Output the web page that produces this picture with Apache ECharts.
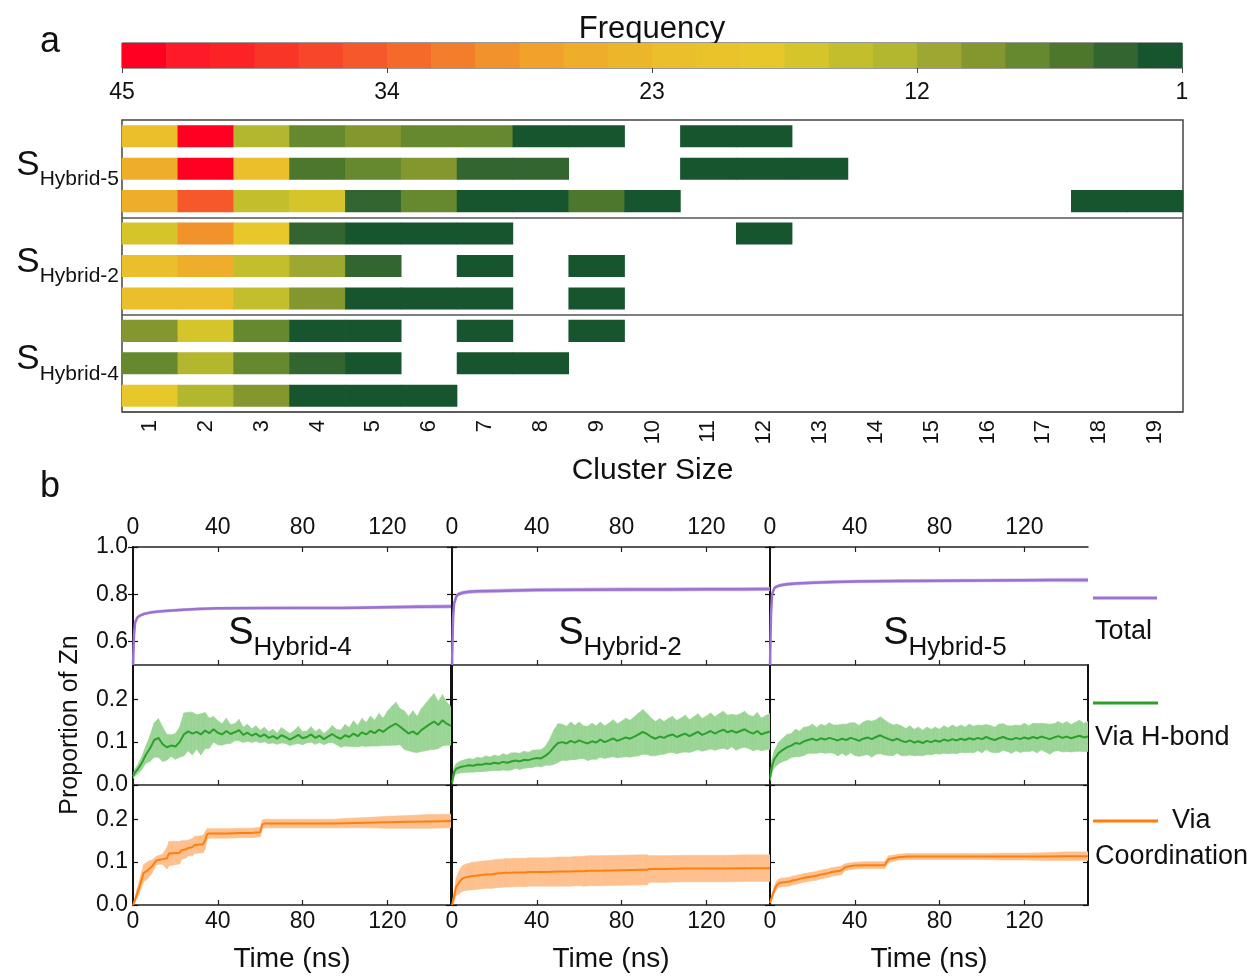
<!DOCTYPE html>
<html><head><meta charset="utf-8">
<script src="https://cdn.jsdelivr.net/npm/echarts@6/dist/echarts.min.js"></script>
<style>html,body{margin:0;padding:0;background:#fff}#c{width:1254px;height:976px}</style>
</head><body><div id="c"></div>
<script>
const FONT = '"Liberation Sans", Arial, Helvetica, sans-serif';
const TXT = '#111';

// ---------- Panel a data ----------
const FREQ_COLORS = ['#FF0022','#FF1A27','#FC2326','#F93527','#F74629','#F6582A','#F56A29','#F37D2A','#F2922A','#F0A22A','#EEAE2A','#ECB62A',
                     '#EBBE2B','#EAC22A','#E8C72A','#D5C52B','#C3BF2C','#B2B72E','#9DA833','#84962E','#66882E','#4C772D','#326530','#17552E'];
const FREQ_MAX = 45, FREQ_MIN = 1;
const FREQ_TICKS = [45, 34, 23, 12, 1];
const CLUSTER_SIZES = ['1','2','3','4','5','6','7','8','9','10','11','12','13','14','15','16','17','18','19'];
const GROUPS = ['Hybrid-5', 'Hybrid-2', 'Hybrid-4'];
const ROW_NAMES = ['S5-1','S5-2','S5-3','S2-1','S2-2','S2-3','S4-1','S4-2','S4-3'];
const _ = null;
const FREQ_S5 = [
  [22,44,13,7,9,7,7,2,2,_,2,2,_,_,_,_,_,_,_],
  [26,44,22,6,7,9,4,4,_,_,2,2,2,_,_,_,_,_,_],
  [26,35,15,17,4,7,2,2,6,2,_,_,_,_,_,_,_,2,2]
];
const FREQ_S2 = [
  [17,29,18,4,2,2,2,_,_,_,_,2,_,_,_,_,_,_,_],
  [22,26,15,11,4,_,2,_,2,_,_,_,_,_,_,_,_,_,_],
  [22,22,15,9,2,2,2,_,2,_,_,_,_,_,_,_,_,_,_]
];
const FREQ_S4 = [
  [9,17,7,2,2,_,2,_,2,_,_,_,_,_,_,_,_,_,_],
  [7,13,7,4,2,_,2,2,_,_,_,_,_,_,_,_,_,_,_],
  [19,13,9,2,2,2,_,_,_,_,_,_,_,_,_,_,_,_,_]
];

// ---------- Panel b data ----------
const PANEL_NAMES = ['Hybrid-4', 'Hybrid-2', 'Hybrid-5'];
const TIME_TICKS = [0, 40, 80, 120];
const TOT_TICKS = [0.6, 0.8, 1.0];
const SUB_TICKS = [0.0, 0.1, 0.2];

const T_TOT = [0,0.5,1,2,3,5,8,12,20,30,40,60,80,100,120,135,150];
const TOT_S4 = [0.50,0.63,0.68,0.70,0.708,0.716,0.722,0.727,0.732,0.737,0.740,0.741,0.742,0.742,0.745,0.747,0.748];
const TOT_S2 = [0.50,0.70,0.76,0.79,0.80,0.806,0.810,0.812,0.814,0.816,0.818,0.819,0.820,0.820,0.821,0.821,0.822];
const TOT_S5 = [0.50,0.72,0.80,0.825,0.832,0.838,0.842,0.845,0.849,0.852,0.854,0.856,0.857,0.858,0.859,0.860,0.860];
const TOT_SD_S4 = [0,0.006,0.006,0.006,0.005,0.005,0.005,0.005,0.005,0.005,0.005,0.005,0.005,0.005,0.006,0.007,0.007];
const TOT_SD_S2 = [0,0.008,0.008,0.007,0.007,0.007,0.007,0.007,0.007,0.007,0.007,0.007,0.007,0.007,0.007,0.007,0.007];
const TOT_SD_S5 = [0,0.008,0.007,0.006,0.006,0.006,0.006,0.006,0.006,0.006,0.006,0.006,0.006,0.006,0.006,0.007,0.008];

const T_HB = [0,1,2,4,6,8,10,12,14,16,18,20,22,24,26,28,30,32,34,36,38,40,42,44,46,48,50,52,54,56,58,60,62,64,66,68,70,72,74,76,78,80,
  82,84,86,88,90,92,94,96,98,100,102,104,106,108,110,112,114,116,118,120,122,124,126,128,130,132,134,136,138,140,142,144,146,148,150];
const HB_S4 = [0.02,0.03,0.035,0.05,0.07,0.085,0.105,0.11,0.095,0.088,
  0.092,0.09,0.10,0.118,0.125,0.12,0.124,0.118,0.127,0.121,
  0.13,0.122,0.118,0.126,0.119,0.123,0.128,0.117,0.122,0.115,
  0.12,0.113,0.118,0.11,0.114,0.108,0.116,0.112,0.106,0.111,
  0.117,0.109,0.112,0.118,0.11,0.115,0.107,0.113,0.119,0.112,
  0.108,0.116,0.112,0.12,0.114,0.123,0.118,0.126,0.121,0.129,
  0.124,0.132,0.138,0.143,0.136,0.128,0.12,0.125,0.118,0.128,
  0.135,0.142,0.148,0.14,0.151,0.143,0.138];
const HB_SD_S4 = [0.005,0.008,0.01,0.015,0.02,0.03,0.04,0.045,0.04,0.03,
  0.025,0.03,0.035,0.05,0.045,0.05,0.04,0.048,0.042,0.035,
  0.03,0.028,0.025,0.03,0.022,0.02,0.025,0.018,0.02,0.016,
  0.018,0.015,0.017,0.014,0.016,0.013,0.018,0.015,0.014,0.016,
  0.02,0.015,0.014,0.018,0.015,0.016,0.013,0.015,0.02,0.018,
  0.02,0.025,0.022,0.03,0.025,0.032,0.028,0.035,0.03,0.038,
  0.032,0.04,0.045,0.05,0.042,0.045,0.04,0.048,0.042,0.05,
  0.055,0.06,0.065,0.055,0.06,0.05,0.045];
const HB_S2 = [0.005,0.03,0.038,0.042,0.044,0.046,0.045,0.048,0.047,0.05,
  0.049,0.052,0.05,0.054,0.052,0.055,0.057,0.055,0.059,0.058,
  0.061,0.063,0.062,0.068,0.076,0.088,0.098,0.1,0.097,0.103,
  0.099,0.104,0.1,0.097,0.102,0.099,0.106,0.1,0.104,0.109,
  0.103,0.107,0.111,0.108,0.113,0.118,0.124,0.119,0.112,0.108,
  0.113,0.11,0.115,0.118,0.112,0.116,0.12,0.114,0.119,0.124,
  0.117,0.121,0.126,0.12,0.125,0.129,0.123,0.127,0.122,0.126,
  0.13,0.124,0.12,0.126,0.118,0.122,0.125];
const HB_SD_S2 = [0.003,0.01,0.012,0.014,0.015,0.016,0.015,0.017,0.016,0.018,
  0.016,0.018,0.017,0.019,0.018,0.02,0.018,0.019,0.02,0.018,
  0.02,0.019,0.02,0.022,0.03,0.04,0.045,0.042,0.04,0.044,
  0.04,0.043,0.038,0.04,0.042,0.039,0.041,0.038,0.04,0.043,
  0.04,0.042,0.045,0.043,0.046,0.05,0.052,0.048,0.044,0.04,
  0.042,0.038,0.04,0.042,0.039,0.04,0.043,0.038,0.04,0.042,
  0.038,0.04,0.042,0.039,0.041,0.043,0.04,0.038,0.041,0.04,
  0.042,0.039,0.04,0.043,0.038,0.04,0.042];
const HB_S5 = [0.015,0.045,0.06,0.074,0.082,0.088,0.092,0.098,0.096,0.102,
  0.105,0.108,0.104,0.109,0.106,0.11,0.107,0.104,0.108,0.105,
  0.11,0.107,0.103,0.108,0.111,0.107,0.112,0.116,0.111,0.107,
  0.104,0.108,0.103,0.1,0.104,0.099,0.102,0.098,0.103,0.1,
  0.104,0.101,0.106,0.103,0.107,0.104,0.108,0.105,0.109,0.106,
  0.11,0.107,0.112,0.108,0.105,0.109,0.112,0.108,0.106,0.11,
  0.107,0.111,0.108,0.112,0.109,0.113,0.11,0.107,0.111,0.114,
  0.11,0.113,0.109,0.112,0.115,0.111,0.113];
const HB_SD_S5 = [0.005,0.015,0.02,0.025,0.027,0.03,0.028,0.032,0.03,0.033,
  0.031,0.034,0.03,0.033,0.032,0.035,0.033,0.036,0.034,0.037,
  0.035,0.038,0.036,0.039,0.04,0.042,0.04,0.043,0.041,0.038,
  0.036,0.034,0.035,0.032,0.034,0.031,0.033,0.03,0.032,0.03,
  0.031,0.029,0.032,0.03,0.033,0.031,0.032,0.03,0.033,0.031,
  0.03,0.032,0.029,0.031,0.03,0.033,0.031,0.03,0.032,0.03,
  0.031,0.033,0.03,0.032,0.034,0.031,0.033,0.035,0.032,0.034,
  0.033,0.035,0.032,0.034,0.036,0.033,0.035];

const T_CO = [0,1,2,3,4,5,6,7,8,9,10,11,12,14,16,17,19,22,23,25,26,28,29,33,34,35,36,40,45,50,54,55,56,58,60,61,62,65,70,80,90,92,93,95,100,110,120,130,140,150];
const CO_S4 = [0,0.012,0.028,0.042,0.058,0.074,0.078,0.081,0.086,0.09,0.097,0.104,0.105,
  0.107,0.109,0.12,0.121,0.122,0.128,0.13,0.133,0.135,0.14,
  0.142,0.15,0.166,0.167,0.167,0.167,0.168,0.168,0.168,0.168,
  0.169,0.17,0.188,0.19,0.19,0.19,0.19,0.19,0.19,0.19,
  0.19,0.191,0.192,0.193,0.194,0.195,0.196];
const CO_SD_S4 = [0,0.005,0.01,0.015,0.018,0.02,0.02,0.02,0.018,0.015,0.012,0.01,0.01,
  0.012,0.025,0.028,0.028,0.026,0.022,0.02,0.018,0.02,0.02,
  0.02,0.02,0.012,0.011,0.011,0.011,0.011,0.011,0.011,0.011,
  0.011,0.011,0.01,0.01,0.01,0.01,0.01,0.01,0.01,0.01,
  0.01,0.011,0.012,0.014,0.015,0.016,0.016];
const CO_S2 = [0,0.02,0.043,0.05,0.057,0.062,0.064,0.065,0.066,0.067,0.068,0.068,0.069,
  0.07,0.071,0.071,0.072,0.074,0.074,0.075,0.075,0.075,0.076,
  0.076,0.076,0.076,0.077,0.077,0.077,0.078,0.078,0.078,0.078,
  0.079,0.079,0.079,0.079,0.08,0.08,0.081,0.082,0.082,0.084,
  0.084,0.084,0.085,0.085,0.085,0.086,0.086];
const CO_SD_S2 = [0,0.01,0.02,0.025,0.028,0.03,0.03,0.031,0.031,0.032,0.032,0.032,0.032,
  0.032,0.032,0.032,0.033,0.033,0.033,0.033,0.033,0.033,0.033,
  0.033,0.033,0.033,0.033,0.033,0.033,0.034,0.034,0.034,0.034,
  0.034,0.034,0.034,0.035,0.035,0.035,0.035,0.035,0.035,0.031,
  0.031,0.031,0.031,0.031,0.031,0.031,0.031];
const CO_S5 = [0.005,0.02,0.035,0.045,0.05,0.052,0.053,0.053,0.054,0.054,0.056,0.058,0.058,
  0.061,0.063,0.064,0.066,0.068,0.07,0.072,0.073,0.075,0.077,
  0.08,0.082,0.087,0.089,0.092,0.093,0.093,0.093,0.1,0.107,
  0.109,0.111,0.112,0.112,0.113,0.113,0.113,0.113,0.113,0.113,
  0.113,0.113,0.113,0.113,0.113,0.114,0.114];
const CO_SD_S5 = [0,0.005,0.008,0.01,0.01,0.01,0.01,0.01,0.01,0.01,0.01,0.01,0.01,
  0.01,0.01,0.01,0.01,0.01,0.01,0.01,0.01,0.01,0.01,
  0.01,0.01,0.008,0.008,0.008,0.008,0.008,0.008,0.008,0.008,
  0.007,0.007,0.007,0.007,0.007,0.007,0.007,0.007,0.007,0.007,
  0.007,0.007,0.008,0.008,0.009,0.01,0.01];

const COLOR_TOT = '#9B72CF', BAND_TOT = '#CDB8EC';
const COLOR_HB = '#2CA02C', BAND_HB = '#9AD596';
const COLOR_CO = '#FF7F0E', BAND_CO = '#FDC08E';

// ---------- build ----------
const grids = [], xAxes = [], yAxes = [], series = [], graphics = [];

// colorbar
grids.push({left:122, top:43, width:1060, height:25, show:true, borderColor:'#333', borderWidth:1});
xAxes.push({gridIndex:0, type:'value', min:FREQ_MIN, max:FREQ_MAX, inverse:true,
  axisLine:{show:false}, splitLine:{show:false},
  axisTick:{show:true, customValues:FREQ_TICKS, length:5, lineStyle:{color:'#444'}},
  axisLabel:{customValues:FREQ_TICKS, margin:13, fontSize:23, color:TXT, fontFamily:FONT}});
yAxes.push({gridIndex:0, type:'value', min:0, max:1, show:false});
const step = (FREQ_MAX - FREQ_MIN) / FREQ_COLORS.length;
const levels = FREQ_COLORS.map((c, i) => [FREQ_MAX - step * i, FREQ_MAX - step * (i + 1), i]);
series.push({type:'custom', xAxisIndex:0, yAxisIndex:0, data:levels, silent:true,
  renderItem:(p, api) => {
    const a = api.coord([api.value(0), 1]), b = api.coord([api.value(1), 0]);
    return {type:'rect', shape:{x:Math.min(a[0], b[0]), y:a[1], width:Math.abs(b[0]-a[0]) + 0.6, height:b[1]-a[1]},
      style:{fill:FREQ_COLORS[api.value(2)]}};
  }});

// heatmap
const ALL_ROWS = FREQ_S5.concat(FREQ_S2, FREQ_S4);
const cells = [];
ALL_ROWS.forEach((row, r) => row.forEach((v, c) => { if (v !== null) cells.push([c, r, v]); }));
grids.push({left:122, top:120, width:1061, height:292, show:true, borderColor:'#444', borderWidth:1.5});
xAxes.push({gridIndex:1, type:'category', data:CLUSTER_SIZES,
  axisLine:{show:false}, splitLine:{show:false},
  axisTick:{alignWithLabel:true, length:6, lineStyle:{color:'#444', width:1.2}},
  axisLabel:{rotate:90, fontSize:22, color:TXT, fontFamily:FONT, margin:8, interval:0},
  name:'Cluster Size', nameLocation:'middle', nameGap:44,
  nameTextStyle:{fontSize:30, color:TXT, fontFamily:FONT}});
yAxes.push({gridIndex:1, type:'category', data:ROW_NAMES, inverse:true,
  axisLine:{show:false}, axisTick:{show:false},
  splitLine:{show:true, interval:(i) => i === 3 || i === 6, lineStyle:{color:'#555', width:1.5}},
  axisLabel:{interval:0, margin:3,
    formatter:(v, i) => (i % 3 === 1 ? '{s|S}{sub|' + GROUPS[Math.floor(i / 3)] + '}' : ''),
    rich:{s:{fontSize:35, color:TXT, fontFamily:FONT, padding:[0,0,7,0], verticalAlign:'bottom'},
          sub:{fontSize:21, color:TXT, fontFamily:FONT, verticalAlign:'bottom'}}}});
series.push({type:'custom', xAxisIndex:1, yAxisIndex:1, data:cells, encode:{x:0, y:1},
  renderItem:(p, api) => {
    const c = api.coord([api.value(0), api.value(1)]);
    const s = api.size([1, 1]);
    const h = s[1] * 0.68;
    return {type:'rect', shape:{x:c[0]-s[0]/2-0.3, y:c[1]-h/2, width:s[0]+0.6, height:h},
      style:{fill:api.visual('color')}};
  }});
const pieces = FREQ_COLORS.map((c, i) => ({gt: FREQ_MAX - step * (i + 1) - (i === FREQ_COLORS.length - 1 ? 1 : 0), lte: FREQ_MAX - step * i, color: c}));

// panel b
const COL_LEFT = [133, 452, 770], COL_W = 318;
const ROW_TOP = [547, 665, 785], ROW_H = [118, 120, 120];
const PANEL_DATA = [
  [ {t:T_TOT, m:TOT_S4, sd:TOT_SD_S4}, {t:T_HB, m:HB_S4, sd:HB_SD_S4}, {t:T_CO, m:CO_S4, sd:CO_SD_S4} ],
  [ {t:T_TOT, m:TOT_S2, sd:TOT_SD_S2}, {t:T_HB, m:HB_S2, sd:HB_SD_S2}, {t:T_CO, m:CO_S2, sd:CO_SD_S2} ],
  [ {t:T_TOT, m:TOT_S5, sd:TOT_SD_S5}, {t:T_HB, m:HB_S5, sd:HB_SD_S5}, {t:T_CO, m:CO_S5, sd:CO_SD_S5} ]
];
const ROW_COLORS = [[COLOR_TOT, BAND_TOT], [COLOR_HB, BAND_HB], [COLOR_CO, BAND_CO]];

function bandRender(color) {
  return function (params, api) {
    const i = params.dataIndexInside;
    if (i >= params.dataInsideLength - 1) return {type:'group', children:[]};
    const pts = [
      api.coord([api.value(0, i), api.value(2, i)]),
      api.coord([api.value(0, i + 1), api.value(2, i + 1)]),
      api.coord([api.value(0, i + 1), api.value(1, i + 1)]),
      api.coord([api.value(0, i), api.value(1, i)])
    ];
    return {type:'polygon', shape:{points:pts}, style:{fill:color, stroke:color, lineWidth:0.6}};
  };
}

const labelStyle = {fontSize:23, color:TXT, fontFamily:FONT};
for (let r = 0; r < 3; r++) {
  for (let c = 0; c < 3; c++) {
    const gi = grids.length;
    grids.push({left:COL_LEFT[c], top:ROW_TOP[r], width:COL_W, height:ROW_H[r], show:false});
    const xi = xAxes.length;
    xAxes.push({gridIndex:gi, type:'value', min:0, max:150, splitLine:{show:false},
      axisLine:{show:true, lineStyle:{color:'#222', width:1.5}},
      axisTick:{show:true, inside:true, length:5, customValues:TIME_TICKS, lineStyle:{color:'#222', width:1.2}},
      axisLabel:Object.assign({show: r === 2, customValues:TIME_TICKS, margin:5}, labelStyle),
      name: r === 2 ? 'Time (ns)' : '', nameLocation:'middle', nameGap:40,
      nameTextStyle:{fontSize:28, color:TXT, fontFamily:FONT}});
    if (r === 0) {
      xAxes.push({gridIndex:gi, type:'value', position:'top', min:0, max:150, splitLine:{show:false},
        axisLine:{show:true, lineStyle:{color:'#222', width:1.5}},
        axisTick:{show:true, inside:true, length:5, customValues:TIME_TICKS, lineStyle:{color:'#222', width:1.2}},
        axisLabel:Object.assign({show:true, customValues:TIME_TICKS, margin:8}, labelStyle)});
    }
    const ymin = r === 0 ? 0.5 : 0, ymax = r === 0 ? 1.0 : 0.28;
    const yt = r === 0 ? TOT_TICKS : SUB_TICKS;
    const yi = yAxes.length;
    yAxes.push({gridIndex:gi, type:'value', min:ymin, max:ymax, splitLine:{show:false},
      axisLine:{show:true, lineStyle:{color:'#111', width:2}},
      axisTick:{show:true, inside:true, length:5, customValues:yt, lineStyle:{color:'#111', width:1.2}},
      axisLabel:Object.assign({show: c === 0, customValues:yt, margin:5, formatter:(v) => v.toFixed(1)}, labelStyle),
      name: (r === 1 && c === 0) ? 'Proportion of Zn' : '', nameLocation:'middle', nameGap:50, nameRotate:90,
      nameTextStyle:{fontSize:25, color:TXT, fontFamily:FONT}});
    yAxes.push({gridIndex:gi, type:'value', position:'right', min:ymin, max:ymax, splitLine:{show:false},
      axisLine:{show:true, lineStyle:{color:'#111', width:2}},
      axisTick:{show:true, inside:true, length:5, customValues:yt, lineStyle:{color:'#111', width:1.2}},
      axisLabel:{show:false}});
    const d = PANEL_DATA[c][r];
    const bandData = d.t.map((t, i) => [t, d.m[i] - d.sd[i], d.m[i] + d.sd[i]]);
    series.push({type:'custom', xAxisIndex:xi, yAxisIndex:yi, data:bandData, encode:{x:0, y:[1,2]},
      renderItem:bandRender(ROW_COLORS[r][1]), clip:true, silent:true, z:1});
    series.push({type:'line', xAxisIndex:xi, yAxisIndex:yi, data:d.t.map((t, i) => [t, d.m[i]]),
      showSymbol:false, symbol:'none', lineStyle:{color:ROW_COLORS[r][0], width: r === 0 ? 2.5 : 2}, z:2, silent:true});
  }
}

// annotations
function txt(x, y, text, size, align) {
  return {type:'text', x:x, y:y, silent:true,
    style:{text:text, fontSize:size, fontFamily:FONT, fill:TXT, align:align || 'left', verticalAlign:'middle',
      textAlign:align || 'left', textVerticalAlign:'middle'}};
}
graphics.push(txt(50, 42, 'a', 36, 'center'));
graphics.push(txt(50, 487, 'b', 36, 'center'));
graphics.push(txt(652, 29, 'Frequency', 31, 'center'));
const PANEL_LABEL_X = [290, 620, 945];
PANEL_NAMES.forEach((n, i) => {
  graphics.push({type:'text', x:PANEL_LABEL_X[i], y:638, silent:true,
    style:{text:'{s|S}{sub|' + n + '}', align:'center', verticalAlign:'middle', textAlign:'center', textVerticalAlign:'middle',
      rich:{s:{fontSize:38, fontFamily:FONT, fill:TXT, padding:[0,0,8,0], verticalAlign:'bottom'},
            sub:{fontSize:26, fontFamily:FONT, fill:TXT, verticalAlign:'bottom'}}}});
});
// legend
graphics.push({type:'line', shape:{x1:1093, y1:598, x2:1157, y2:598}, style:{stroke:COLOR_TOT, lineWidth:3}});
graphics.push(txt(1095, 632, 'Total', 27));
graphics.push({type:'line', shape:{x1:1093, y1:703, x2:1158, y2:703}, style:{stroke:COLOR_HB, lineWidth:3}});
graphics.push(txt(1095, 738, 'Via H-bond', 27));
graphics.push({type:'line', shape:{x1:1093, y1:821, x2:1158, y2:821}, style:{stroke:COLOR_CO, lineWidth:3}});
graphics.push(txt(1172, 821, 'Via', 27));
graphics.push(txt(1095, 857, 'Coordination', 27));

const chart = echarts.init(document.getElementById('c'));
chart.setOption({
  animation:false,
  backgroundColor:'#fff',
  textStyle:{fontFamily:FONT},
  grid:grids, xAxis:xAxes, yAxis:yAxes, series:series,
  visualMap:[{type:'piecewise', show:false, seriesIndex:1, dimension:2, pieces:pieces}],
  graphic:graphics
});
</script>
</body></html>
